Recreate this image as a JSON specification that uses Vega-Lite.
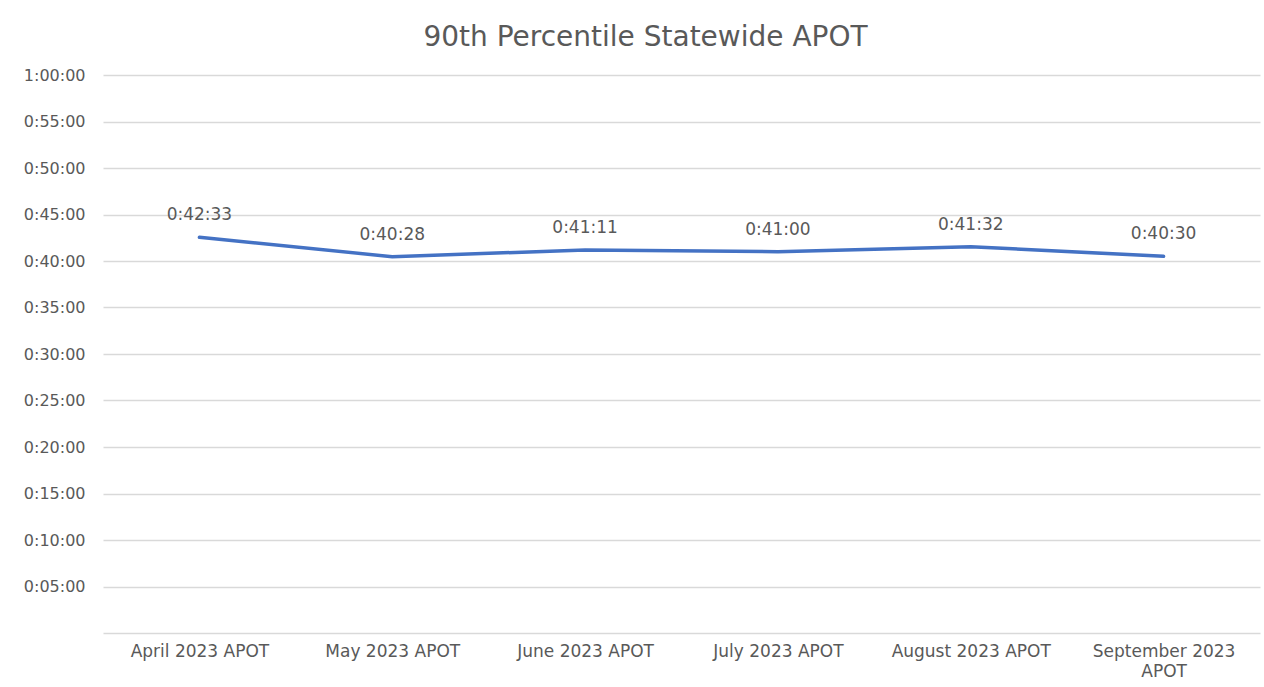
{
  "$schema": "https://vega.github.io/schema/vega-lite/v6.json",
  "width": 1157,
  "height": 558,
  "autosize": {"type": "none"},
  "padding": {"left": 103, "top": 75, "right": 4, "bottom": 54},
  "background": "white",
  "title": {
    "text": "90th Percentile Statewide APOT",
    "font": "DejaVu Sans",
    "fontSize": 28,
    "fontWeight": "normal",
    "color": "#595959",
    "anchor": "middle",
    "dx": -36,
    "offset": 15
  },
  "data": {
    "values": [
      {"month": "April 2023 APOT", "seconds": 2553, "label": "0:42:33"},
      {"month": "May 2023 APOT", "seconds": 2428, "label": "0:40:28"},
      {"month": "June 2023 APOT", "seconds": 2471, "label": "0:41:11"},
      {"month": "July 2023 APOT", "seconds": 2460, "label": "0:41:00"},
      {"month": "August 2023 APOT", "seconds": 2492, "label": "0:41:32"},
      {"month": "September 2023 APOT", "seconds": 2430, "label": "0:40:30"}
    ]
  },
  "encoding": {
    "x": {
      "field": "month",
      "type": "nominal",
      "sort": null,
      "axis": {
        "title": null,
        "labelAngle": 0,
        "labelFont": "DejaVu Sans",
        "labelFontSize": 17,
        "labelColor": "#595959",
        "labelPadding": 10,
        "labelLineHeight": 20,
        "labelLimit": 0,
        "ticks": false,
        "grid": false,
        "domain": true,
        "domainColor": "#d9d9d9",
        "domainWidth": 1.5,
        "labelExpr": "datum.value == 'September 2023 APOT' ? ['September 2023', 'APOT'] : datum.value"
      }
    },
    "y": {
      "field": "seconds",
      "type": "quantitative",
      "scale": {"domain": [0, 3600], "nice": false, "zero": true},
      "axis": {
        "title": null,
        "values": [300, 600, 900, 1200, 1500, 1800, 2100, 2400, 2700, 3000, 3300, 3600],
        "labelExpr": "floor(datum.value/3600) + ':' + (floor(datum.value/60)%60 < 10 ? '0' : '') + (floor(datum.value/60)%60) + ':00'",
        "labelFont": "DejaVu Sans",
        "labelFontSize": 16,
        "labelColor": "#595959",
        "labelPadding": 18,
        "ticks": false,
        "domain": false,
        "grid": true,
        "gridColor": "#d9d9d9",
        "gridWidth": 1.5
      }
    }
  },
  "layer": [
    {
      "mark": {"type": "line", "color": "#4472C4", "strokeWidth": 3.5, "strokeCap": "round"}
    },
    {
      "mark": {"type": "text", "dy": -22, "font": "DejaVu Sans", "fontSize": 17, "color": "#595959", "baseline": "middle"},
      "encoding": {"text": {"field": "label"}}
    }
  ],
  "config": {"view": {"stroke": null}}
}
